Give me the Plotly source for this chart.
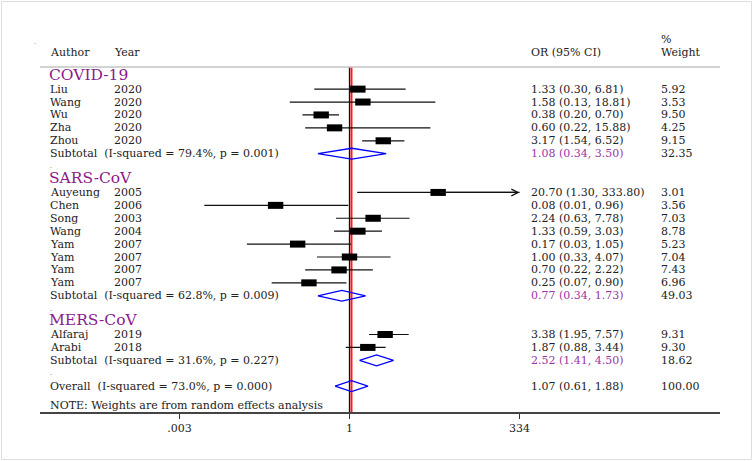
import numpy as np
import plotly.graph_objects as go

# ---------------- data ----------------
groups = ["COVID-19", "SARS-CoV", "MERS-CoV"]

covid_authors = ["Liu", "Wang", "Wu", "Zha", "Zhou"]
covid_years = ["2020", "2020", "2020", "2020", "2020"]
covid_or = [1.33, 1.58, 0.38, 0.60, 3.17]
covid_lo = [0.30, 0.13, 0.20, 0.22, 1.54]
covid_hi = [6.81, 18.81, 0.70, 15.88, 6.52]
covid_w = [5.92, 3.53, 9.50, 4.25, 9.15]

sars_authors = ["Auyeung", "Chen", "Song", "Wang", "Yam", "Yam", "Yam", "Yam"]
sars_years = ["2005", "2006", "2003", "2004", "2007", "2007", "2007", "2007"]
sars_or = [20.70, 0.08, 2.24, 1.33, 0.17, 1.00, 0.70, 0.25]
sars_lo = [1.30, 0.007, 0.63, 0.59, 0.03, 0.33, 0.22, 0.07]
sars_hi = [333.80, 0.96, 7.78, 3.03, 1.05, 4.07, 2.22, 0.90]
sars_w = [3.01, 3.56, 7.03, 8.78, 5.23, 7.04, 7.43, 6.96]

mers_authors = ["Alfaraj", "Arabi"]
mers_years = ["2019", "2018"]
mers_or = [3.38, 1.87]
mers_lo = [1.95, 0.88]
mers_hi = [7.57, 3.44]
mers_w = [9.31, 9.30]

sub_or = [1.08, 0.77, 2.52]
sub_lo = [0.34, 0.34, 1.41]
sub_hi = [3.50, 1.73, 4.50]
sub_w = [32.35, 49.03, 18.62]
sub_i2 = ["79.4%", "62.8%", "31.6%"]
sub_p = ["0.001", "0.009", "0.227"]

overall_or, overall_lo, overall_hi, overall_w = 1.07, 0.61, 1.88, 100.00
overall_i2, overall_p = "73.0%", "0.000"

tick_vals = [0.003, 1, 334]
tick_text = [".003", "1", "334"]

# ---------------- layout constants ----------------
W, H = 753, 461
ML, MR, MT, MB = 40, 33, 31, 49
PW = W - ML - MR
Y_TOP, Y_BOT = -3.5, 26
FONT = "DejaVu Serif"
FS = 11
TXT = "#222222"
PURPLE = "#8b1a8b"
PURPLE2 = "#9b35a6"
BLUE = "#0000ff"


def px(xp):
    return (xp - ML) / PW


studies = [
    (covid_authors, covid_years, covid_or, covid_lo, covid_hi, covid_w),
    (sars_authors, sars_years, sars_or, sars_lo, sars_hi, sars_w),
    (mers_authors, mers_years, mers_or, mers_lo, mers_hi, mers_w),
]

fig = go.Figure()
ann = []


def text(xp, y, s, color=TXT, size=FS):
    ann.append(dict(x=px(xp), y=y, xref="paper", yref="y", text=s, showarrow=False,
                    xanchor="left", yanchor="middle", borderpad=0,
                    font=dict(family=FONT, size=size, color=color)))


def fmt(e, l, h):
    return f"{e:.2f} ({l:.2f}, {h:.2f})"


ci_x, ci_y = [], []
sq_x, sq_y = [], []
diamonds = []
row = 0
for g, (au, yr, es, lo, hi, w) in enumerate(studies):
    text(48, row - 0.1, groups[g], color=PURPLE, size=15.5)
    row += 1
    for i in range(len(au)):
        text(49, row, au[i])
        text(113, row, yr[i])
        text(530, row, fmt(es[i], lo[i], hi[i]))
        text(660, row, f"{w[i]:.2f}")
        ci_x += [lo[i], hi[i], None]
        ci_y += [row, row, None]
        sq_x.append(es[i])
        sq_y.append(row)
        if hi[i] > 300:
            ann.append(dict(x=np.log10(hi[i]), y=row, ax=np.log10(es[i]), ay=row,
                            xref="x", yref="y", axref="x", ayref="y", text="",
                            showarrow=True, arrowhead=5, arrowsize=1.1,
                            arrowwidth=1.2, arrowcolor="#111"))
        row += 1
    text(49, row, f"Subtotal  (I-squared = {sub_i2[g]}, p = {sub_p[g]})")
    text(530, row, fmt(sub_or[g], sub_lo[g], sub_hi[g]), color=PURPLE2)
    text(660, row, f"{sub_w[g]:.2f}")
    diamonds.append((sub_or[g], sub_lo[g], sub_hi[g], row))
    row += 1
    text(49, row - 0.05, ".", size=6)
    row += 1

row_overall = row
text(49, row_overall, f"Overall  (I-squared = {overall_i2}, p = {overall_p})")
text(530, row_overall, fmt(overall_or, overall_lo, overall_hi))
text(660, row_overall, f"{overall_w:.2f}")
diamonds.append((overall_or, overall_lo, overall_hi, row_overall))
text(49, row_overall + 1.5, "NOTE: Weights are from random effects analysis")

# headers
text(49, -1.85, "Author")
text(113, -1.85, "Year")
text(530, -1.85, "OR (95% CI)")
text(660, -2.85, "%")
text(660, -1.85, "Weight")
text(33, -2.7, ".", size=6)

HEAD_Y = -0.72

# null line and overall line
fig.add_trace(go.Scatter(x=[1, 1], y=[HEAD_Y, Y_BOT], mode="lines",
                         line=dict(color="#111", width=1.3), hoverinfo="skip"))
fig.add_trace(go.Scatter(x=[overall_or, overall_or], y=[HEAD_Y, Y_BOT], mode="lines",
                         line=dict(color="#ff1a1a", width=2), hoverinfo="skip"))

# CIs
fig.add_trace(go.Scatter(x=ci_x, y=ci_y, mode="lines",
                         line=dict(color="#111", width=1.2), hoverinfo="skip"))
# squares
fig.add_trace(go.Scatter(x=sq_x, y=sq_y, mode="markers",
                         marker=dict(symbol="line-ew", size=11,
                                     line=dict(color="#000", width=7)),
                         hoverinfo="skip"))
# diamonds
DH = 0.42
for e, l, h, r in diamonds:
    fig.add_trace(go.Scatter(x=[l, e, h, e, l], y=[r, r - DH, r, r + DH, r],
                             mode="lines", line=dict(color=BLUE, width=1.3),
                             hoverinfo="skip"))

shapes = [
    dict(type="line", xref="paper", yref="y", x0=0, x1=1, y0=HEAD_Y, y1=HEAD_Y,
         line=dict(color="#c4c4c4", width=1.5)),
    dict(type="rect", xref="paper", yref="paper",
         x0=px(1.5), x1=px(751.5), y0=(H - MB - 459.5) / (H - MT - MB),
         y1=(H - MB - 1.5) / (H - MT - MB),
         line=dict(color="#dedede", width=1)),
]

LEFT_LOG = (ML - 349.5) / 67.37
RIGHT_LOG = (W - MR - 349.5) / 67.37

fig.update_layout(
    width=W, height=H, margin=dict(l=ML, r=MR, t=MT, b=MB),
    paper_bgcolor="white", plot_bgcolor="white", showlegend=False,
    annotations=ann, shapes=shapes,
    xaxis=dict(type="log", range=[LEFT_LOG, RIGHT_LOG], showgrid=False, zeroline=False,
               tickvals=tick_vals, ticktext=tick_text, ticks="outside", ticklen=5,
               tickwidth=1.3, tickcolor="#333", showline=True, linecolor="#444",
               linewidth=1.5, tickfont=dict(family=FONT, size=FS, color=TXT)),
    yaxis=dict(range=[Y_BOT, Y_TOP], visible=False, showgrid=False, zeroline=False),
)

fig.write_html("out.html", config={"displayModeBar": False},
               post_script="document.body.style.margin='0';document.body.style.overflow='hidden';")
